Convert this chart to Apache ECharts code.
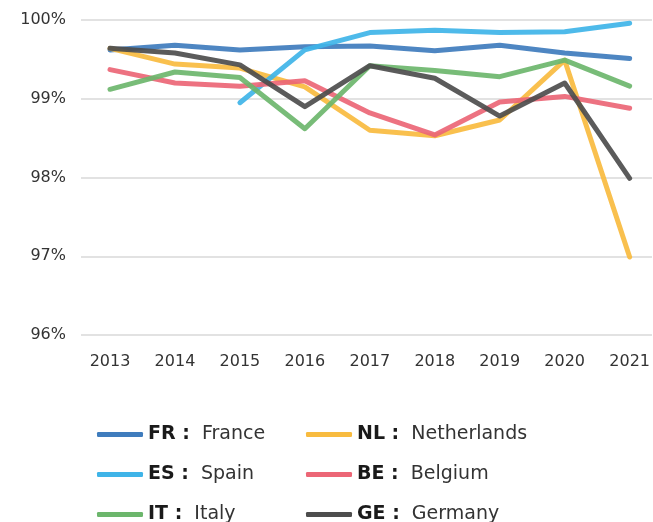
<!DOCTYPE html>
<html>
<head>
  <meta charset="utf-8" />
  <title>line chart</title>
  <script src="https://cdn.jsdelivr.net/npm/echarts@6/dist/echarts.min.js"></script>
  <style>
    html, body { margin: 0; padding: 0; background: #fff; }
    #chart { width: 653px; height: 522px; }
  </style>
</head>
<body>
<div id="chart"></div>
<script type="text/javascript">
    // years on the x axis
    var years = ['2013', '2014', '2015', '2016', '2017', '2018', '2019', '2020', '2021'];

    // values in percent
    var fr = [99.62, 99.68, 99.62, 99.66, 99.67, 99.61, 99.68, 99.58, 99.51];
    var nl = [99.64, 99.44, 99.39, 99.15, 98.60, 98.53, 98.73, 99.49, 96.99];
    var es = [null, null, 98.95, 99.62, 99.84, 99.87, 99.84, 99.85, 99.96];
    var be = [99.37, 99.20, 99.16, 99.23, 98.82, 98.54, 98.96, 99.03, 98.88];
    var it = [99.12, 99.34, 99.27, 98.62, 99.42, 99.36, 99.28, 99.49, 99.16];
    var ge = [99.64, 99.58, 99.43, 98.90, 99.42, 99.26, 98.78, 99.20, 97.99];

    var yTicks = [96, 97, 98, 99, 100];

    var countries = [
        { code: 'FR', name: 'France', data: fr, color: '#3f7cbd' },
        { code: 'NL', name: 'Netherlands', data: nl, color: '#f8bb3f' },
        { code: 'ES', name: 'Spain', data: es, color: '#3fb4e8' },
        { code: 'BE', name: 'Belgium', data: be, color: '#ec6676' },
        { code: 'IT', name: 'Italy', data: it, color: '#6cb66c' },
        { code: 'GE', name: 'Germany', data: ge, color: '#4d4d4d' }
    ];
    var fullName = {};
    countries.forEach(function (c) { fullName[c.code] = c.name; });

    var font = 'DejaVu Sans';
    var chart = echarts.init(document.getElementById('chart'));

    // one legend per item so the two columns line up
    var legendPos = [[92, 420], [301, 420], [92, 460], [301, 460], [92, 500], [301, 500]];
    var legends = countries.map(function (c, i) {
        return {
            data: [c.code],
            left: legendPos[i][0],
            top: legendPos[i][1],
            icon: 'roundRect',
            itemWidth: 46,
            itemHeight: 5,
            itemGap: 8,
            selectedMode: false,
            formatter: function (n) {
                return '{b|' + n + ' :}  {n|' + fullName[n] + '}';
            },
            textStyle: {
                fontFamily: font,
                fontSize: 19,
                rich: {
                    b: { fontFamily: font, fontWeight: 'bold', fontSize: 19, color: '#1a1a1a' },
                    n: { fontFamily: font, fontSize: 19, color: '#333' }
                }
            }
        };
    });

    var option = {
        animation: false,
        legend: legends,
        grid: [
            // plot area: first and last year sit on the edges
            { left: 110, top: 20, width: 520, height: 315 },
            // wider grid only for the horizontal gridlines
            { left: 81, top: 20, right: 1, height: 315 }
        ],
        xAxis: [
            {
                type: 'category',
                gridIndex: 0,
                data: years,
                boundaryGap: false,
                axisLine: { show: false },
                axisTick: { show: false },
                splitLine: { show: false },
                axisLabel: {
                    margin: 19,
                    fontFamily: font,
                    fontSize: 16,
                    color: '#333'
                }
            },
            { type: 'value', gridIndex: 1, show: false }
        ],
        yAxis: [
            {
                type: 'value',
                gridIndex: 0,
                min: yTicks[0],
                max: yTicks[yTicks.length - 1],
                interval: 1,
                show: false
            },
            {
                type: 'value',
                gridIndex: 1,
                min: yTicks[0],
                max: yTicks[yTicks.length - 1],
                interval: 1,
                axisLine: { show: false },
                axisTick: { show: false },
                axisLabel: {
                    margin: 15,
                    fontFamily: font,
                    fontSize: 16,
                    color: '#333',
                    formatter: '{value}%'
                },
                splitLine: { lineStyle: { color: '#d9d9d9', width: 1.5 } }
            }
        ],
        series: countries.map(function (c) {
            return {
                name: c.code,
                type: 'line',
                xAxisIndex: 0,
                yAxisIndex: 0,
                data: c.data,
                showSymbol: false,
                symbol: 'none',
                color: c.color,
                lineStyle: { width: 5, color: c.color, opacity: 0.92, cap: 'round', join: 'round' }
            };
        })
    };
    chart.setOption(option);
</script>
</body>
</html>
